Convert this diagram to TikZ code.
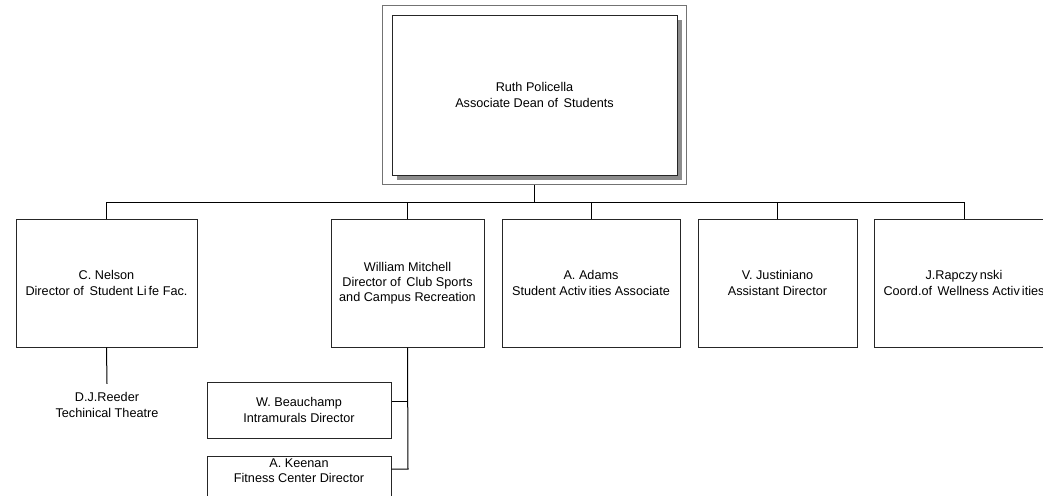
\documentclass[tikz,border=0pt]{standalone}
\usepackage{fontspec}
\setmainfont{Liberation Sans}
\usetikzlibrary{positioning,fit,shadows}
\tikzset{
  unit/.style = {align=center, inner sep=2pt, text centered, font=\fontsize{9.5}{11.4}\selectfont},
  staff/.style = {unit, rectangle, draw=black!85, line width=0.75pt, fill=white},
  dean/.style = {staff, font=\fontsize{9.5}{12.6}\selectfont, minimum width=285*0.75pt, minimum height=160*0.75pt,
                 drop shadow={shadow xshift=3.6pt, shadow yshift=-3.6pt, fill=black!45, opacity=1}},
  head/.style = {staff, minimum height=128*0.75pt},
  sub/.style = {staff, minimum width=184*0.75pt, minimum height=56*0.75pt},
  link/.style = {draw=black, line width=0.75pt},
}

\begin{document}
\begin{tikzpicture}[x=0.75pt, y=-0.75pt]
\useasboundingbox (0,0) rectangle (1043,496);
\clip (0,0) rectangle (1043,496);

\node [dean] (ruth) at (534.5,95) {Ruth Policella\\Associate Dean of\,\ Students};
\node [draw=black!55, line width=1.1pt, inner sep=6.8pt, fit=(ruth)] (ruthframe) {};

\node [head, minimum width=181*0.75pt] (nelson) at (106.5,283) {C. Nelson\\Director of\,\ Student Li\,fe Fac.};
\node [head, minimum width=153*0.75pt] (mitchell) at (407.5,283) {William Mitchell\\Director of\,\ Club Sports\\and Campus Recreation};
\node [head, minimum width=178*0.75pt] (adams) at (591,283) {A. Adams\\Student Activ\,ities Associate};
\node [head, minimum width=159*0.75pt] (justiniano) at (777.5,283) {V. Justiniano\\Assistant Director};
\node [head, minimum width=180*0.75pt] (rapczynski) at (964,283) {J.Rapczy\,nski\\Coord.of\,\ Wellness Activ\,ities};

\node [unit, inner sep=6.5pt] (reeder) at (107,405) {D.J.Reeder\\Techinical Theatre};
\node [sub] (beauchamp) at (299,410) {W. Beauchamp\\Intramurals Director};
\node [sub] (keenan) at (299,484) {};
\node [unit] (keenantext) at (299,471) {A. Keenan\\Fitness Center Director};

\coordinate (bar) at (535,202);
\coordinate (bjoin) at (408,401);
\coordinate (kjoin) at (408,469);

\draw [link, line width=1pt] (ruthframe.south) -- (ruthframe.south |- bar);
\draw [link] (nelson.north |- bar) -- (rapczynski.north |- bar);
\foreach \n in {nelson,mitchell,adams,justiniano,rapczynski}
  \draw [link] (\n.north) -- (\n.north |- bar);

\draw [link] (nelson.south) -- (reeder.north);
\draw [link] (mitchell.south) -- (kjoin) -- (keenan.east |- kjoin);
\draw [link] (bjoin) -- (beauchamp.east |- bjoin);
\end{tikzpicture}
\end{document}
